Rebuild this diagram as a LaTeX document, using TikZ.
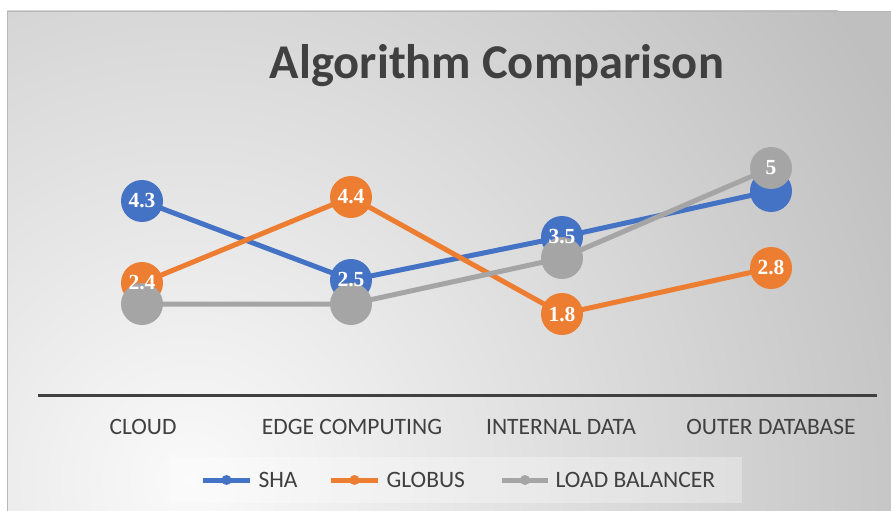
\documentclass[tikz,border=0pt]{standalone}
\usepackage{fontspec}
\usetikzlibrary{calc}
\setmainfont{Carlito}
\newfontfamily\lblfont{Liberation Serif}
\definecolor{sha}{HTML}{4472C4}
\definecolor{glo}{HTML}{ED7D31}
\definecolor{lbc}{HTML}{A5A5A5}
\definecolor{txt}{HTML}{404040}
\definecolor{bgout}{HTML}{BFBFBF}
\definecolor{bgin}{HTML}{FAFAFA}
\tikzset{
  serline/.style={line width=5pt, line join=round},
  marker/.style={circle, inner sep=0pt, minimum size=42pt, fill=#1},
  lbl/.style={text=white, font=\lblfont\bfseries\fontsize{21.5}{22}\selectfont, inner sep=0pt},
  cat/.style={text=txt, font=\fontsize{23.5}{26}\selectfont},
  legtxt/.style={text=txt, font=\fontsize{23.5}{26}\selectfont, anchor=west},
}
\begin{document}
\begin{tikzpicture}[x=1pt,y=-1pt]
\useasboundingbox (0,0) rectangle (891,511);
% background
\fill[bgout] (7,11) rectangle (891,511);
\begin{scope}
  \clip (7,11) rectangle (891,511);
  \shade[inner color=bgin, outer color=bgout] (190,480) circle (800);
\end{scope}
\draw[lbc!80, line width=0.8pt] (7,511) -- (7,11) -- (891,11);
% title
\node[text=txt, font=\bfseries\fontsize{48.5}{52}\selectfont] (title) at (497,66) {Algorithm Comparison};
% points
\coordinate (s1) at (142,201);
\coordinate (s2) at (351,280);
\coordinate (s3) at (562,237);
\coordinate (s4) at (771,191);
\coordinate (g1) at (142,283);
\coordinate (g2) at (351,197);
\coordinate (g3) at (562,314);
\coordinate (g4) at (771,268);
\coordinate (l1) at (142,304);
\coordinate (l2) at (351,304);
\coordinate (l3) at (562,258);
\coordinate (l4) at (771,168);
% SHA
\draw[serline, sha] (s1) -- (s2) -- (s3) -- (s4);
\foreach \p in {s1,s2,s3,s4} \node[marker=sha] (m\p) at (\p) {};
% GLOBUS
\draw[serline, glo] (g1) -- (g2) -- (g3) -- (g4);
\foreach \p in {g1,g2,g3,g4} \node[marker=glo] (m\p) at (\p) {};
% LOAD BALANCER
\draw[serline, lbc] (l1) -- (l2) -- (l3) -- (l4);
\foreach \p in {l1,l2,l3,l4} \node[marker=lbc] (m\p) at (\p) {};
% data labels
\node[lbl] (ts1) at (s1) {4.3};
\node[lbl] (ts2) at (s2) {2.5};
\node[lbl] (ts3) at (s3) {3.5};
\node[lbl] (tg1) at (g1) {2.4};
\node[lbl] (tg2) at (g2) {4.4};
\node[lbl] (tg3) at (g3) {1.8};
\node[lbl] (tg4) at (g4) {2.8};
\node[lbl] (tl4) at (l4) {5};
% axis
\coordinate (axl) at (38,395);
\coordinate (axr) at (877,395);
\draw[txt, line width=3pt] (axl) -- (axr);
\node[cat] (c1) at (143,427) {CLOUD};
\node[cat] (c2) at (352,427) {EDGE COMPUTING};
\node[cat] (c3) at (561,427) {INTERNAL DATA};
\node[cat] (c4) at (771,427) {OUTER DATABASE};
% legend
\fill[white, fill opacity=0.3] (170,457) rectangle (742,503);
\coordinate (la1) at (203,480); \coordinate (lb1) at (250,480);
\coordinate (la2) at (331,480); \coordinate (lb2) at (378,480);
\coordinate (la3) at (502,480); \coordinate (lb3) at (548,480);
\draw[sha, line width=5pt] (la1) -- (lb1);
\fill[sha] ($(la1)!0.5!(lb1)$) circle (5);
\draw[glo, line width=5pt] (la2) -- (lb2);
\fill[glo] ($(la2)!0.5!(lb2)$) circle (5);
\draw[lbc, line width=5pt] (la3) -- (lb3);
\fill[lbc] ($(la3)!0.5!(lb3)$) circle (5);
\node[legtxt] (lt1) at (255,480) {SHA};
\node[legtxt] (lt2) at (383,480) {GLOBUS};
\node[legtxt] (lt3) at (552,480) {LOAD BALANCER};
\end{tikzpicture}
\end{document}
